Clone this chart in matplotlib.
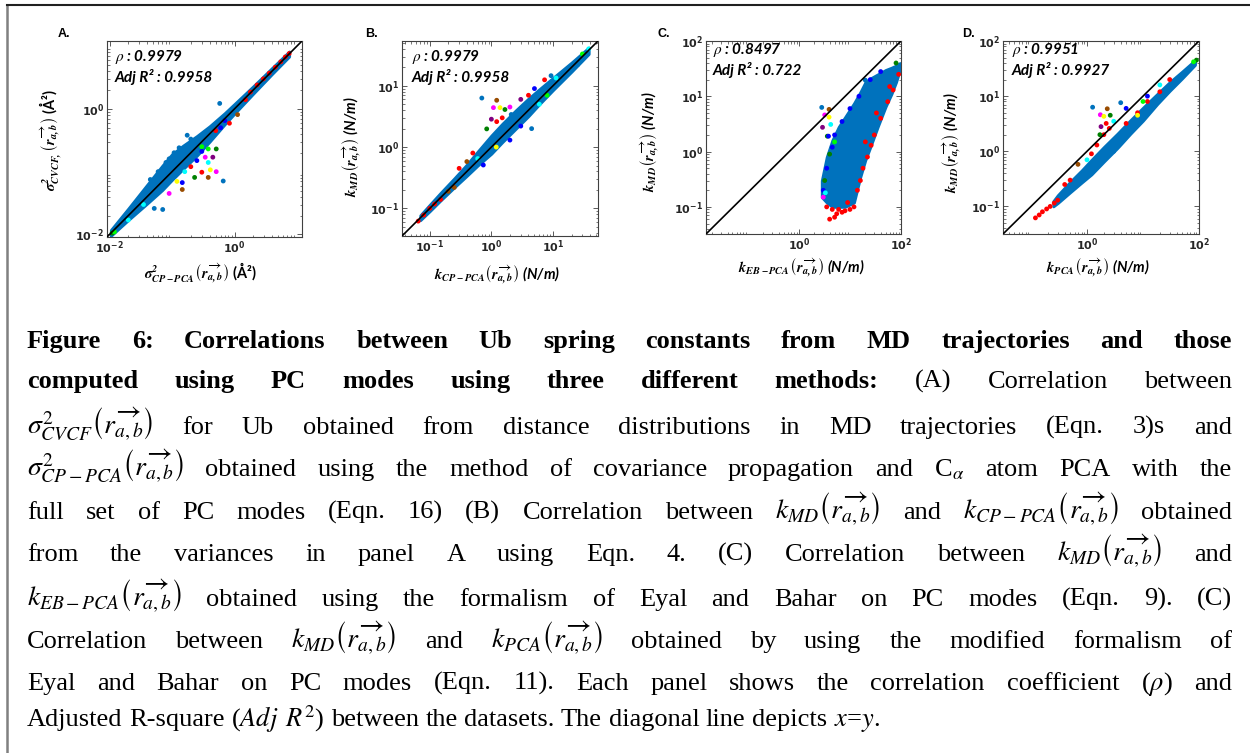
import matplotlib
matplotlib.use('Agg')
import numpy as np
import matplotlib.pyplot as plt
from matplotlib.ticker import FixedLocator, FuncFormatter, LogLocator, NullFormatter
from matplotlib.transforms import IdentityTransform
from matplotlib.lines import Line2D

plt.rcParams['mathtext.fontset'] = 'dejavusans'

# ---------------- data ----------------
# panel A: sigma^2 CP-PCA (x) vs sigma^2 CVCF (y)
a_band_x = [0.0105, 0.02, 0.04, 0.07, 0.1, 0.15, 0.25, 0.4, 0.7, 1.0, 2.0, 4.0, 7.5]
a_band_lo = [0.0095, 0.017, 0.031, 0.051, 0.074, 0.11, 0.18, 0.3, 0.57, 0.84, 1.75, 3.6, 6.8]
a_band_hi = [0.0118, 0.026, 0.062, 0.125, 0.19, 0.26, 0.37, 0.53, 0.86, 1.2, 2.3, 4.5, 8.2]
a_pts_x = [0.09, 0.108, 0.175, 0.06, 0.08, 0.13, 0.2, 0.58, 0.045,
           0.66, 0.51, 0.41, 0.38, 0.30, 0.23, 0.38, 0.51, 0.45, 0.38, 0.34, 0.30, 0.146,
           0.071, 0.052, 0.146, 1.12, 0.83, 0.2, 0.25, 0.12, 0.09, 0.3, 0.6, 0.5, 0.16,
           0.7, 1.5, 0.035, 0.02, 0.011, 0.012,
           1.8, 2.3, 2.9, 3.6, 4.5, 5.5, 6.5, 7.5]
a_pts_y = [0.16, 0.2, 0.38, 0.1, 0.14, 0.24, 0.33, 1.22, 0.075,
           0.071, 0.10, 0.107, 0.081, 0.098, 0.081, 0.14, 0.23, 0.17, 0.23, 0.17, 0.21, 0.067,
           0.025, 0.026, 0.052, 0.81, 0.59, 0.12, 0.15, 0.07, 0.045, 0.25, 0.5, 0.45, 0.1,
           0.65, 1.4, 0.03, 0.017, 0.0105, 0.011,
           1.85, 2.4, 3.0, 3.7, 4.6, 5.6, 6.7, 7.6]
a_pts_g = ['def', 'def', 'def', 'def', 'def', 'def', 'def', 'def', 'def',
           'def', 'mag', 'yel', 'brn', 'red', 'grn', 'cyn', 'grn', 'pur', 'lime', 'mag', 'blu', 'blu',
           'def', 'def', 'brn', 'brn', 'red', 'red', 'blu', 'yel', 'mag', 'lime', 'blu', 'red', 'cyn',
           'blu', 'red', 'cyn', 'cyn', 'grn', 'lime',
           'red', 'red', 'red', 'red', 'red', 'red', 'red', 'red']

# panel B: k CP-PCA (x) vs k MD (y)
b_band_x = [0.07, 0.1, 0.15, 0.25, 0.4, 0.6, 1.0, 1.5, 2.5, 4, 6, 10, 20, 38]
b_band_lo = [0.064, 0.09, 0.135, 0.22, 0.34, 0.5, 0.78, 1.2, 2.0, 3.2, 5.0, 8.5, 17, 33]
b_band_hi = [0.077, 0.115, 0.18, 0.31, 0.52, 0.85, 1.55, 2.4, 4.0, 6.2, 8.8, 13.5, 24, 42]
b_pts_x = [0.70, 1.22, 1.08, 1.38, 1.66, 1.0, 0.84, 1.22, 2.1, 0.40, 9.3, 7.3, 11.2, 4.5, 0.74,
           1.5, 2.0, 3, 4, 5, 0.3, 0.5, 0.6, 3, 2, 6, 8, 1.2, 30, 38, 25,
           0.065, 0.08, 0.1, 0.12, 0.15, 0.2, 0.25]
b_pts_y = [6.3, 5.8, 4.4, 4.4, 4.1, 2.85, 1.98, 2.6, 3.4, 0.58, 14.6, 12.5, 13.4, 2.0, 0.51,
           3.0, 4.5, 6, 7, 9, 0.45, 0.8, 0.65, 2.2, 1.3, 5, 7, 1.0, 33, 40, 22,
           0.062, 0.078, 0.1, 0.118, 0.14, 0.19, 0.22]
b_pts_g = ['def', 'brn', 'mag', 'yel', 'grn', 'pur', 'grn', 'red', 'def', 'brn', 'def', 'red', 'cyn', 'def', 'blu',
           'red', 'mag', 'pur', 'red', 'blu', 'red', 'red', 'cyn', 'blu', 'blu', 'cyn', 'lime', 'yel', 'lime', 'cyn', 'def',
           'red', 'red', 'red', 'red', 'red', 'brn', 'brn']

# panel C: k EB-PCA (x) vs k MD (y)
c_band_x = [2.8, 3.5, 4.5, 6, 8, 12, 16, 20, 25, 35, 50, 65, 80, 95]
c_band_lo = [0.15, 0.12, 0.1, 0.1, 0.1, 0.12, 0.35, 0.7, 1.2, 2.8, 6.5, 11, 18, 30]
c_band_hi = [0.3, 0.8, 1.6, 2.8, 4.2, 7.5, 12, 18, 21, 25, 30, 33, 36, 40]
c_pts_x = [12, 14, 16, 18, 22, 26, 30, 40, 55, 70, 90, 4, 5, 5.5, 7, 8, 10, 6, 9, 4.5, 3.5, 20, 33, 60,
           3, 3.5, 4.5, 5, 7, 10, 15, 25, 40, 3.2, 4, 5, 80,
           2.8, 3.9, 3.2, 3.9, 2.9, 4.2, 3.6, 3.8, 20, 3, 3.3]
c_pts_y = [0.1, 0.2, 0.3, 0.5, 0.8, 1.3, 2, 4, 8, 13, 25, 0.06, 0.065, 0.075, 0.08, 0.085, 0.09, 0.09, 0.12, 0.09, 0.1, 1.5, 5, 15,
           0.2, 0.5, 1.2, 2, 3.5, 6, 10, 20, 28, 0.3, 0.9, 1.5, 40,
           6.3, 5.8, 4.6, 4.2, 2.75, 3.1, 1.9, 1.9, 19.6, 0.15, 0.18]
c_pts_g = ['red'] * 24 + ['blu'] * 9 + ['grn', 'grn', 'lime', 'grn'] + \
          ['def', 'brn', 'mag', 'yel', 'pur', 'cyn', 'grn', 'blu', 'def', 'mag', 'cyn']

# panel D: k PCA (x) vs k MD (y)
d_band_x = [0.25, 0.3, 0.5, 0.8, 1.2, 2, 3.5, 6, 10, 18, 30, 50, 85]
d_band_lo = [0.1, 0.115, 0.18, 0.27, 0.38, 0.65, 1.15, 2.1, 3.6, 7.2, 12.5, 21, 37]
d_band_hi = [0.125, 0.16, 0.28, 0.45, 0.7, 1.2, 2.1, 3.7, 6.2, 11, 18, 28, 45]
d_pts_x = [0.12, 0.14, 0.16, 0.19, 0.22, 0.26, 0.3, 1.5, 2, 2.5, 1.2, 5, 8, 12, 20, 30,
           1.26, 2.3, 1.73, 2.0, 2.6, 1.78, 1.7, 4.0, 0.69, 3, 5, 2.2, 3, 10, 12, 20, 90, 80, 8, 6, 1, 0.5, 0.4]
d_pts_y = [0.062, 0.07, 0.08, 0.09, 0.1, 0.115, 0.13, 1.3, 2, 2.6, 0.9, 3.2, 5, 8, 12, 20,
           6.3, 5.9, 4.6, 4.3, 4.5, 2.8, 2.0, 7.6, 0.58, 3.5, 6, 3.2, 1.0, 8, 10, 16, 45, 42, 4.5, 2.5, 0.7, 0.3, 0.25]
d_pts_g = ['red'] * 16 + ['def', 'brn', 'mag', 'yel', 'grn', 'pur', 'grn', 'def', 'brn', 'cyn', 'blu', 'red',
                          'def', 'lime', 'blu', 'cyn', 'grn', 'lime', 'yel', 'def', 'cyn', 'red', 'red']

panel_letters = ['A.', 'B.', 'C.', 'D.']
rho_vals = ['0.9979', '0.9979', '0.8497', '0.9951']
adj_r2_vals = ['0.9958', '0.9958', '0.722', '0.9927']

ARROW = r'\left(\overrightarrow{\mathbfit{r_{a,b}}}\right)'
x_labels = [r'$\mathbfit{\sigma^2_{CP-PCA}}' + ARROW + r'$ (Å²)',
            r'$\mathbfit{k_{CP-PCA}}' + ARROW + r'$ (N/m)',
            r'$\mathbfit{k_{EB-PCA}}' + ARROW + r'$ (N/m)',
            r'$\mathbfit{k_{PCA}}' + ARROW + r'$ (N/m)']
y_labels = [r'$\mathbfit{\sigma^2_{CVCF,}}' + ARROW + r'$ (Å²)',
            r'$\mathbfit{k_{MD}}' + ARROW + r'$ (N/m)',
            r'$\mathbfit{k_{MD}}' + ARROW + r'$ (N/m)',
            r'$\mathbfit{k_{MD}}' + ARROW + r'$ (N/m)']

# caption
RA = r'\left(\overrightarrow{r_{a,b}}\right)$'
S_CVCF = r'$\sigma^2_{CVCF}' + RA
S_CP = r'$\sigma^2_{CP-PCA}' + RA
K_MD = r'$k_{MD}' + RA
K_CP = r'$k_{CP-PCA}' + RA
K_EB = r'$k_{EB-PCA}' + RA
K_PCA = r'$k_{PCA}' + RA
caption = [
    [('Figure 6: Correlations between Ub spring constants from MD trajectories and those', 'b')],
    [('computed using PC modes using three different methods:', 'b'), ('(A) Correlation between', 'r')],
    [(S_CVCF, 'm'), ('for Ub obtained from distance distributions in MD trajectories (Eqn. 3)s and', 'r')],
    [(S_CP, 'm'), (r'obtained using the method of covariance propagation and C$_{\alpha}$ atom PCA with the', 'r')],
    [('full set of PC modes (Eqn. 16) (B) Correlation between', 'r'), (K_MD, 'm'), ('and', 'r'),
     (K_CP, 'm'), ('obtained', 'r')],
    [('from the variances in panel A using Eqn. 4. (C) Correlation between', 'r'), (K_MD, 'm'), ('and', 'r')],
    [(K_EB, 'm'), ('obtained using the formalism of Eyal and Bahar on PC modes (Eqn. 9). (C)', 'r')],
    [('Correlation between', 'r'), (K_MD, 'm'), ('and', 'r'), (K_PCA, 'm'),
     ('obtained by using the modified formalism of', 'r')],
    [(r'Eyal and Bahar on PC modes (Eqn. 11). Each panel shows the correlation coefficient ($\rho$) and', 'r')],
    [(r'Adjusted R-square ($Adj$ $R^2$) between the datasets. The diagonal line depicts $x$=$y$.', 'r')],
]
caption_baselines = [348, 388, 434, 476, 519, 561, 606, 648, 690, 726]

# ---------------- styles / layout ----------------
COL = {'def': '#0072BD', 'red': '#FF0000', 'blu': '#0000FF', 'grn': '#008000', 'lime': '#00FF00',
       'cyn': '#00FFFF', 'mag': '#FF00FF', 'yel': '#FFFF00', 'brn': '#994C00', 'pur': '#800080'}
W, H = 1250, 753
axes_px = [(107, 41, 302, 237), (402, 41, 598, 236), (706, 41, 901, 234), (1003, 41, 1199, 234)]
lims = [((10**-2.04, 10**1.08), (10**-2.04, 10**1.08)),
        ((10**-1.45, 10**1.73), (10**-1.45, 10**1.73)),
        ((10**-1.82, 10**2), (10**-1.49, 10**2)),
        ((10**-1.5, 10**2), (10**-1.5, 10**2))]
x_major = [[1e-2, 1e0], [1e-1, 1e0, 1e1], [1e0, 1e2], [1e0, 1e2]]
y_major = [[1e-2, 1e0], [1e-1, 1e0, 1e1], [1e-1, 1e0, 1e1, 1e2], [1e-1, 1e0, 1e1, 1e2]]
letter_x = [58, 365, 657, 962]
txt_pos = [(0.04, 0.918, 0.816), (0.05, 0.918, 0.816), (0.036, 0.953, 0.85), (0.046, 0.953, 0.85)]
xlab_pos = [(0.48, -0.184), (0.485, -0.2), (0.49, -0.176), (0.485, -0.176)]
ylab_pos = [(-0.29, 0.495), (-0.255, 0.46), (-0.287, 0.477), (-0.26, 0.472)]

fig = plt.figure(figsize=(12.5, 7.53), dpi=100)

data = [(a_band_x, a_band_lo, a_band_hi, a_pts_x, a_pts_y, a_pts_g),
        (b_band_x, b_band_lo, b_band_hi, b_pts_x, b_pts_y, b_pts_g),
        (c_band_x, c_band_lo, c_band_hi, c_pts_x, c_pts_y, c_pts_g),
        (d_band_x, d_band_lo, d_band_hi, d_pts_x, d_pts_y, d_pts_g)]

tick_fmt = FuncFormatter(lambda v, p: r'$\mathbf{10^{%d}}$' % int(round(np.log10(v))))

for i in range(4):
    x0, y0, x1, y1 = axes_px[i]
    ax = fig.add_axes([x0 / W, 1 - y1 / H, (x1 - x0) / W, (y1 - y0) / H])
    bx, blo, bhi, px, py, pg = data[i]
    ax.set_xscale('log')
    ax.set_yscale('log')
    ax.fill_between(bx, blo, bhi, color=COL['def'], lw=2, edgecolor=COL['def'], zorder=2)
    ax.scatter(px, py, s=12, c=[COL[g] for g in pg], edgecolors='none', zorder=3)
    (xl, yl) = lims[i]
    ax.plot(xl, yl, color='black', lw=1.2, zorder=4)
    ax.set_xlim(xl)
    ax.set_ylim(yl)
    for axis, maj in ((ax.xaxis, x_major[i]), (ax.yaxis, y_major[i])):
        axis.set_major_locator(FixedLocator(maj))
        axis.set_major_formatter(tick_fmt)
        axis.set_minor_locator(LogLocator(base=10, subs=np.arange(2, 10), numticks=30))
        axis.set_minor_formatter(NullFormatter())
    ax.tick_params(which='both', direction='in', top=True, right=True, color='#404040',
                   labelsize=8, labelcolor='#262626', pad=2)
    ax.tick_params(which='major', length=3.5, width=0.6)
    ax.tick_params(which='minor', length=1.8, width=0.5)
    for sp in ax.spines.values():
        sp.set_color('#404040')
        sp.set_linewidth(0.8)

    tx, ty1, ty2 = txt_pos[i]
    ax.text(tx, ty1, r'$\rho$ : ' + rho_vals[i], transform=ax.transAxes, fontsize=11,
            fontweight='bold', style='italic', family='Lato', va='center', math_fontfamily='stix')
    ax.text(tx, ty2, 'Adj R² : ' + adj_r2_vals[i], transform=ax.transAxes, fontsize=11,
            fontweight='bold', style='italic', family='Lato', va='center')

    st = 'normal' if i == 0 else 'italic'
    xlab = ax.set_xlabel(x_labels[i], fontsize=10.5, fontweight='bold', style=st, family='Lato')
    xlab.set_math_fontfamily('stix')
    ax.xaxis.set_label_coords(*xlab_pos[i])
    xlab.set_va('center')
    ylab = ax.set_ylabel(y_labels[i], fontsize=10.5, fontweight='bold', style=st, family='Lato')
    ylab.set_math_fontfamily('stix')
    ax.yaxis.set_label_coords(*ylab_pos[i])
    ylab.set_va('center')

    fig.text(letter_x[i] / W, 1 - 34 / H, panel_letters[i], fontsize=9, fontweight='bold',
             family='Liberation Sans', va='center', ha='left')

# outer frame lines
fig.add_artist(Line2D([7 / W, 7 / W], [0, 1 - 5 / H], transform=fig.transFigure, color='#808080', lw=1.8))
fig.add_artist(Line2D([7 / W, 1], [1 - 5 / H, 1 - 5 / H], transform=fig.transFigure, color='#202020', lw=1.5))

# caption, justified between LEFT and RIGHT
renderer = fig.canvas.get_renderer()
LEFT, RIGHT = 27, 1232
for li, segs in enumerate(caption):
    words = []
    for s, kind in segs:
        if kind == 'm':
            words.append((s, kind))
        else:
            words += [(w, kind) for w in s.split()]
    arts = []
    for w, kind in words:
        t = fig.text(0, 0, w, transform=IdentityTransform(), va='baseline', ha='left',
                     family='Liberation Serif', math_fontfamily='stix',
                     fontsize=20 if kind == 'm' else 19,
                     fontweight='bold' if kind == 'b' else 'normal')
        arts.append(t)
    widths = [t.get_window_extent(renderer).width for t in arts]
    if li < len(caption) - 1:
        gap = max(3, (RIGHT - LEFT - sum(widths)) / (len(arts) - 1))
    else:
        gap = 6.5
    x = LEFT
    for t, wd in zip(arts, widths):
        t.set_position((x, H - caption_baselines[li]))
        x += wd + gap

fig.savefig('out.png', dpi=100)
